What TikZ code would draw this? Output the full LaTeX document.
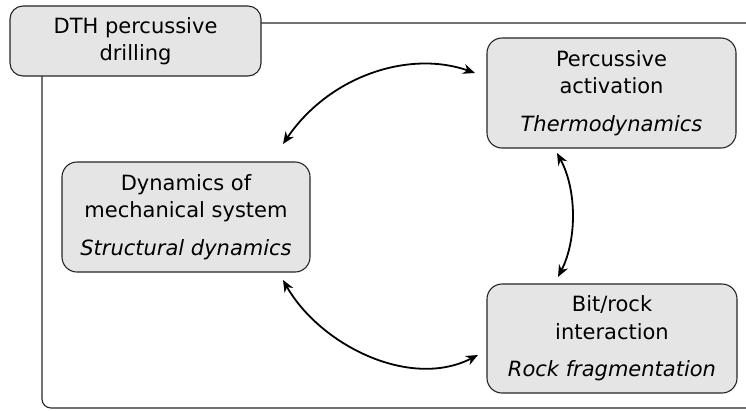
\documentclass[tikz,border=0pt]{standalone}
\usepackage{fontspec}
\setmainfont{DejaVu Sans}
\usetikzlibrary{arrows.meta}
\tikzset{
  box/.style={draw=black!85, line width=1.1pt, fill=gray!20, rounded corners=15pt,
    align=center, inner sep=0pt, font=\fontsize{21}{27.5}\selectfont},
  frame/.style={draw=black!85, line width=1.1pt, rounded corners=9pt},
  link/.style={line width=1.8pt, {Stealth[length=12pt,width=10pt]}-{Stealth[length=12pt,width=10pt]}}
}
\begin{document}
\begin{tikzpicture}[x=1pt,y=-1pt]
\useasboundingbox (0,0) rectangle (746,410);
\clip (0,0) rectangle (746,410);
\draw[frame] (42,23) rectangle (770,408);
\node[box, minimum width=251pt, minimum height=70pt, rounded corners=13pt] (title) at (135.5,41) {DTH percussive\\drilling};
\node[box, minimum width=249pt, minimum height=110pt] (perc) at (611.5,93) {Percussive\\activation\\[10pt]\textit{Thermodynamics}};
\node[box, minimum width=248pt, minimum height=110pt] (dyn) at (186,217) {Dynamics of\\mechanical system\\[10pt]\textit{Structural dynamics}};
\node[box, minimum width=250pt, minimum height=109pt] (bit) at (612,338.5) {Bit/rock\\interaction\\[10pt]\textit{Rock fragmentation}};
\coordinate (a1) at (283,144);
\coordinate (b1) at (475,73);
\coordinate (a2) at (283,280);
\coordinate (b2) at (478,355);
\coordinate (a3) at (557,153);
\coordinate (b3) at (558,277);
\draw[link] (a1) .. controls (330,75) and (410,50) .. (b1);
\draw[link] (a2) .. controls (320,345) and (410,390) .. (b2);
\draw[link] (a3) .. controls (577,190) and (577,240) .. (b3);
\end{tikzpicture}
\end{document}
